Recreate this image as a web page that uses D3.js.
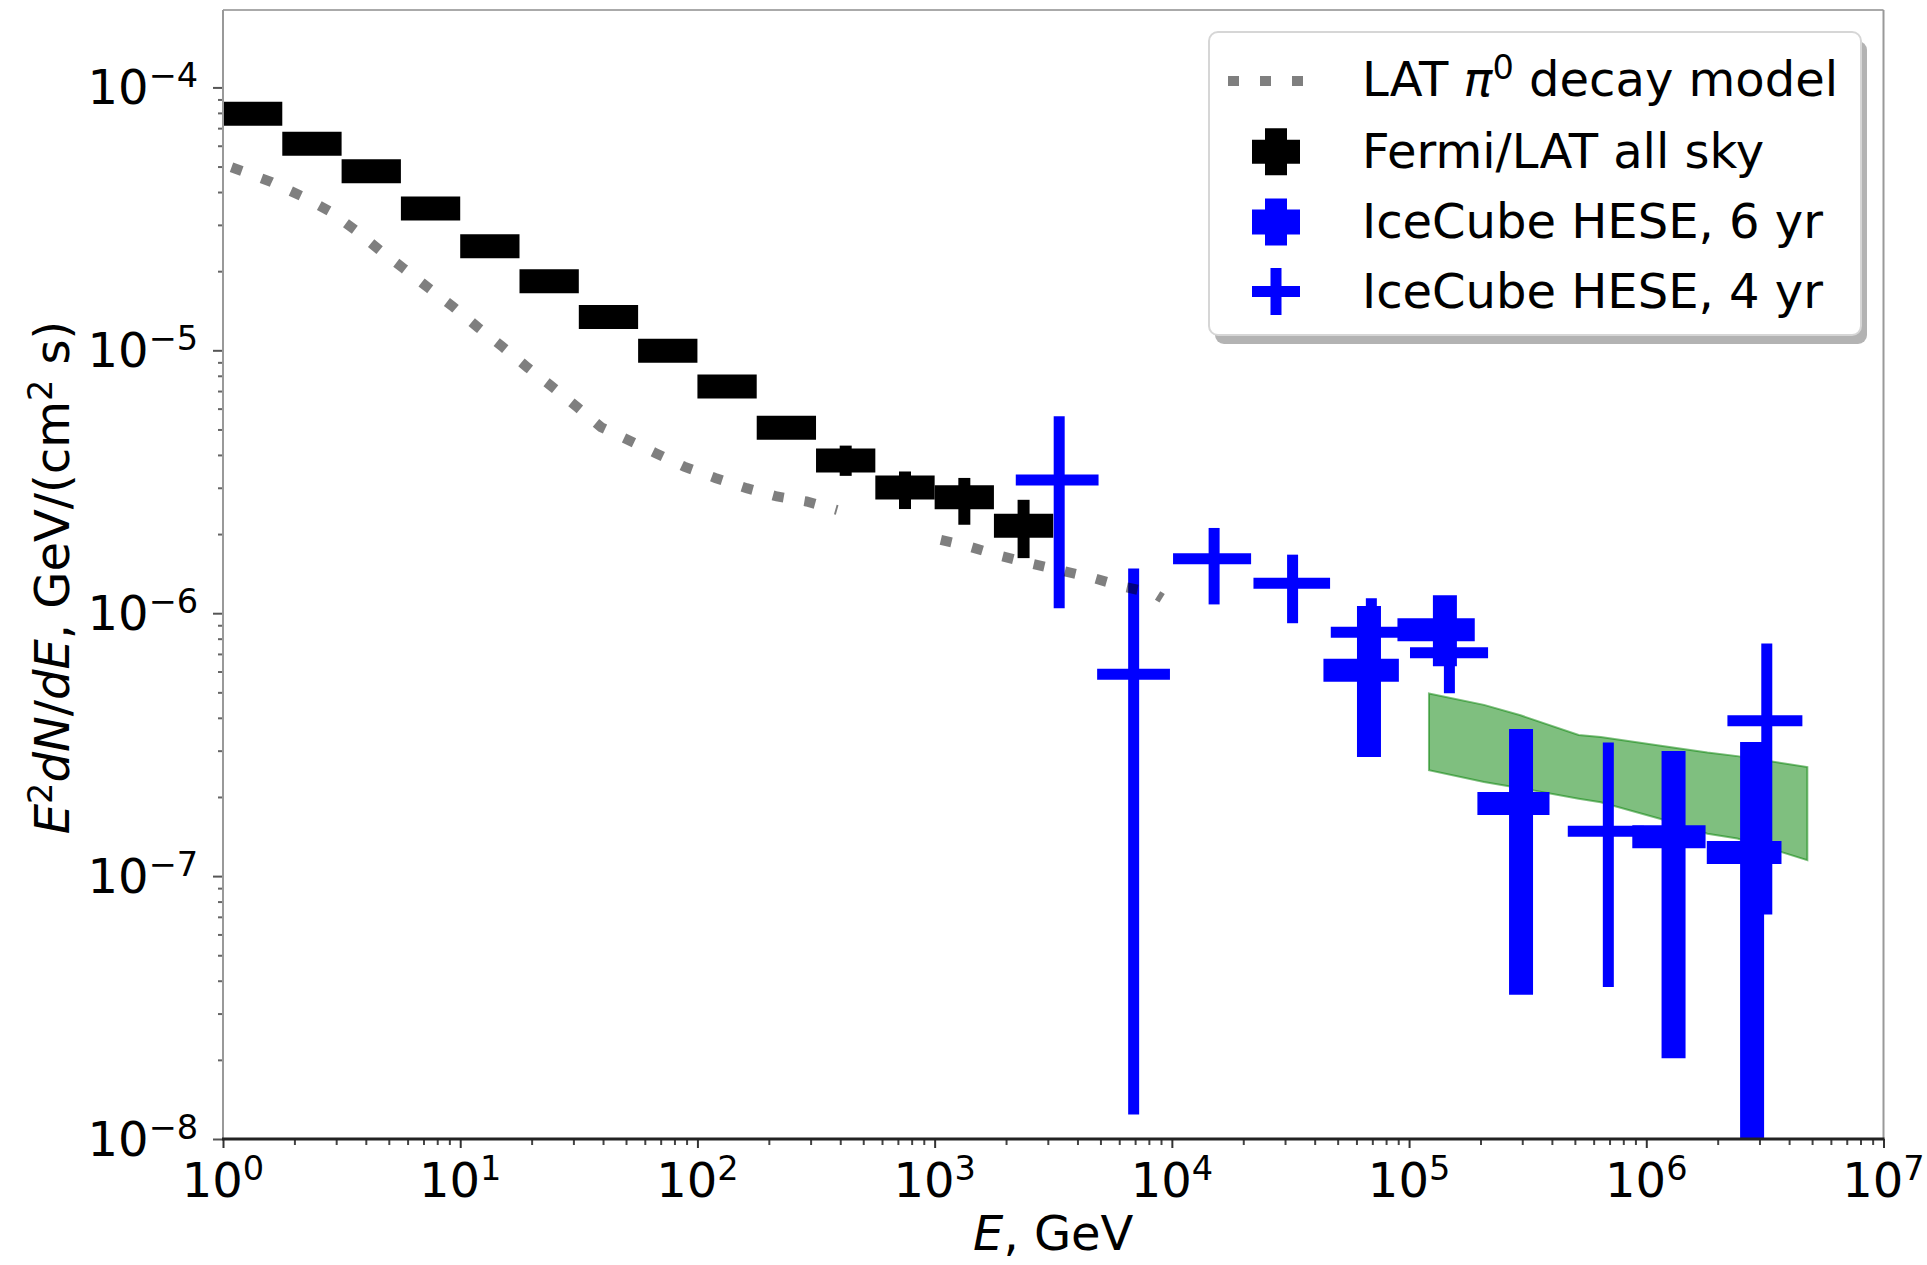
<!DOCTYPE html>
<html><head><meta charset="utf-8">
<script src="https://cdnjs.cloudflare.com/ajax/libs/d3/7.8.5/d3.min.js"></script>
<style>
body{margin:0;background:#fff}
svg{display:block;font-family:"DejaVu Sans",sans-serif}
text{white-space:pre}
</style>
</head><body>
<svg id="chart" width="1927" height="1265"></svg>
<script>
// ---------------- data ----------------
// LAT pi0 decay model (null = gap in the curve)
const modelE    = [1.086, 1.222, 1.603, 2.143, 2.812, 3.622, 4.592, 5.768, 7.396, 9.376, 11.91, 15.10, 19.23, 24.27, 30.97, 39.26, 50.82, 66.37, 87.90, 118.9, 161.1, 216.3, 288.4, 388.2, null, 1062, 1406, 1905, 2582, 3451, 4677, 6281, 8433, 9099];
const modelFlux = [4.97e-5, 4.78e-5, 4.36e-5, 3.86e-5, 3.38e-5, 2.86e-5, 2.40e-5, 2.05e-5, 1.72e-5, 1.46e-5, 1.22e-5, 1.03e-5, 8.6e-6, 7.3e-6, 6.1e-6, 5.1e-6, 4.57e-6, 4.07e-6, 3.61e-6, 3.27e-6, 2.99e-6, 2.78e-6, 2.66e-6, 2.47e-6, null, 1.90e-6, 1.79e-6, 1.65e-6, 1.54e-6, 1.45e-6, 1.36e-6, 1.26e-6, 1.19e-6, 1.14e-6];

// Fermi/LAT all sky
const fermiE    = [1.334, 2.371, 4.217, 7.499, 13.34, 23.71, 42.17, 74.99, 133.4, 237.1, 421.7, 749.9, 1334, 2371];
const fermiEmin = [1, 1.778, 3.162, 5.623, 10, 17.78, 31.62, 56.23, 100, 177.8, 316.2, 562.3, 1000, 1778];
const fermiEmax = [1.778, 3.162, 5.623, 10, 17.78, 31.62, 56.23, 100, 177.8, 316.2, 562.3, 1000, 1778, 3162];
const fermiFlux = [7.94e-5, 6.10e-5, 4.80e-5, 3.46e-5, 2.49e-5, 1.83e-5, 1.34e-5, 9.96e-6, 7.29e-6, 5.08e-6, 3.81e-6, 3.01e-6, 2.76e-6, 2.15e-6];
const fermiLo   = [7.6e-5, 5.85e-5, 4.6e-5, 3.32e-5, 2.39e-5, 1.76e-5, 1.29e-5, 9.56e-6, 7.0e-6, 4.88e-6, 3.33e-6, 2.49e-6, 2.17e-6, 1.62e-6];
const fermiHi   = [8.28e-5, 6.36e-5, 5.0e-5, 3.6e-5, 2.59e-5, 1.9e-5, 1.39e-5, 1.04e-5, 7.58e-6, 5.28e-6, 4.34e-6, 3.46e-6, 3.27e-6, 2.70e-6];

// IceCube HESE, 6 yr
const ice6E    = [67760, 141600, 296500, 1303000, 2793000];
const ice6Emin = [43550, 89330, 194100, 873000, 1799000];
const ice6Emax = [90570, 189200, 390800, 1778000, 3715000];
const ice6Flux = [6.07e-7, 8.65e-7, 1.89e-7, 1.41e-7, 1.23e-7];
const ice6Lo   = [2.84e-7, 6.29e-7, 3.54e-8, 2.03e-8, 5e-9];
const ice6Hi   = [1.064e-6, 1.17e-6, 3.63e-7, 2.99e-7, 3.24e-7];

// IceCube HESE, 4 yr
const ice4E    = [3350, 6902, 15070, 32280, 69340, 147900, 691800, 3221000];
const ice4Emin = [2198, 4842, 10116, 22080, 46770, 100900, 466700, 2198000];
const ice4Emax = [4909, 9817, 21580, 46450, 100000, 215300, 977200, 4550000];
const ice4Flux = [3.21e-6, 5.86e-7, 1.61e-6, 1.30e-6, 8.47e-7, 7.08e-7, 1.48e-7, 3.90e-7];
const ice4Lo   = [1.045e-6, 1.24e-8, 1.08e-6, 9.16e-7, 6.3e-7, 4.96e-7, 3.79e-8, 7.15e-8];
const ice4Hi   = [5.61e-6, 1.48e-6, 2.11e-6, 1.67e-6, 1.14e-6, 1.0e-6, 3.22e-7, 7.67e-7];

// green band
const bandE     = [121300, 207000, 295100, 518800, 642700, 1151000, 1811000, 2421000, 4775000];
const bandUpper = [4.95e-7, 4.48e-7, 4.09e-7, 3.44e-7, 3.38e-7, 3.13e-7, 2.95e-7, 2.86e-7, 2.60e-7];
const bandLower = [2.53e-7, 2.28e-7, 2.16e-7, 1.97e-7, 1.91e-7, 1.65e-7, 1.45e-7, 1.39e-7, 1.15e-7];

// ticks
const xMajor = [1, 10, 100, 1e3, 1e4, 1e5, 1e6, 1e7];
const xMajorExp = ["0", "1", "2", "3", "4", "5", "6", "7"];
const yMajor = [1e-8, 1e-7, 1e-6, 1e-5, 1e-4];
const yMajorExp = ["\u22128", "\u22127", "\u22126", "\u22125", "\u22124"];

const legendLabels = ["Fermi/LAT all sky", "IceCube HESE, 6 yr", "IceCube HESE, 4 yr"];

// ---------------- drawing ----------------
const FS = 48;
const svg = d3.select("#chart");
const L = 223, R = 1883.5, T = 10, B = 1139;
const x = d3.scaleLog().domain([1, 1e7]).range([L, R]);
const y = d3.scaleLog().domain([1e-8, 1.97e-4]).range([B, T]);

svg.append("rect").attr("width", 1927).attr("height", 1265).attr("fill", "#fff");

svg.append("defs").append("clipPath").attr("id", "clip")
  .append("rect").attr("x", L).attr("y", T).attr("width", R - L).attr("height", B - T);

function rich(textSel, parts, fs) {
  let raised = false;
  parts.forEach(p => {
    const ts = textSel.append("tspan").text(p.t);
    if (p.it) ts.attr("font-style", "italic");
    if (p.sup) {
      ts.attr("font-size", fs * 0.7);
      if (!raised) { ts.attr("dy", -fs * 0.36); raised = true; }
    } else if (raised) { ts.attr("dy", fs * 0.36); raised = false; }
  });
}

// minor tick values
const xMinor = [];
for (let k = 0; k < 7; k++) for (let m = 2; m <= 9; m++) xMinor.push(m * Math.pow(10, k));
const yMinor = [];
for (let k = -8; k < -3; k++) for (let m = 2; m <= 9; m++) { const v = m * Math.pow(10, k); if (v < 1.97e-4) yMinor.push(v); }

// axes ticks
function styleAxis(g, color) {
  g.select(".domain").remove();
  g.selectAll(".tick line").attr("stroke", color).attr("stroke-width", 2);
  g.selectAll(".tick text").remove();
}
svg.append("g").attr("transform", `translate(0,${B})`)
  .call(d3.axisBottom(x).tickValues(xMajor).tickSize(9).tickFormat(() => ""))
  .call(g => styleAxis(g, "#333"));
svg.append("g").attr("transform", `translate(0,${B})`)
  .call(d3.axisBottom(x).tickValues(xMinor).tickSize(6).tickFormat(() => ""))
  .call(g => styleAxis(g, "#444"));
svg.append("g").attr("transform", `translate(${L},0)`)
  .call(d3.axisLeft(y).tickValues(yMajor).tickSize(10).tickFormat(() => ""))
  .call(g => styleAxis(g, "#555"));
svg.append("g").attr("transform", `translate(${L},0)`)
  .call(d3.axisLeft(y).tickValues(yMinor).tickSize(5).tickFormat(() => ""))
  .call(g => styleAxis(g, "#666"));

// tick labels
xMajor.forEach((v, i) => {
  const t = svg.append("text").attr("x", x(v)).attr("y", 1197)
    .attr("text-anchor", "middle").attr("font-size", FS).attr("fill", "#000");
  rich(t, [{t: "10"}, {t: xMajorExp[i], sup: true}], FS);
});
yMajor.forEach((v, i) => {
  const t = svg.append("text").attr("x", 198).attr("y", y(v) + 17)
    .attr("text-anchor", "end").attr("font-size", FS).attr("fill", "#000");
  rich(t, [{t: "10"}, {t: yMajorExp[i], sup: true}], FS);
});

// axis labels
const xl = svg.append("text").attr("x", (L + R) / 2).attr("y", 1250)
  .attr("text-anchor", "middle").attr("font-size", FS);
rich(xl, [{t: "E", it: true}, {t: ", GeV"}], FS);
const yl = svg.append("text").attr("x", 0).attr("y", 0)
  .attr("transform", `translate(69,${(T + B) / 2 + 3}) rotate(-90)`)
  .attr("text-anchor", "middle").attr("font-size", FS);
rich(yl, [{t: "E", it: true}, {t: "2", sup: true}, {t: "dN", it: true}, {t: "/"}, {t: "dE", it: true},
          {t: ", GeV/(cm"}, {t: "2", sup: true}, {t: " s)"}], FS);

// plot data
const plot = svg.append("g").attr("clip-path", "url(#clip)");

// band
const bandData = bandE.map((e, i) => ({e, u: bandUpper[i], l: bandLower[i]}));
plot.append("path").datum(bandData)
  .attr("d", d3.area().x(d => x(d.e)).y0(d => y(d.l)).y1(d => y(d.u)))
  .attr("fill", "green").attr("fill-opacity", 0.5)
  .attr("stroke", "green").attr("stroke-opacity", 0.5).attr("stroke-width", 2);

function errorbars(E, Emin, Emax, F, Lo, Hi, color, hw, vw) {
  const g = plot.append("g");
  const d = E.map((e, i) => ({e, a: Emin[i], b: Emax[i], f: F[i], lo: Lo[i], hi: Hi[i]}));
  g.selectAll("line.h").data(d).join("line").attr("class", "h")
    .attr("x1", p => x(p.a)).attr("x2", p => x(p.b))
    .attr("y1", p => y(p.f)).attr("y2", p => y(p.f))
    .attr("stroke", color).attr("stroke-width", hw);
  g.selectAll("line.v").data(d).join("line").attr("class", "v")
    .attr("x1", p => x(p.e)).attr("x2", p => x(p.e))
    .attr("y1", p => y(p.lo)).attr("y2", p => y(p.hi))
    .attr("stroke", color).attr("stroke-width", vw);
}
errorbars(fermiE, fermiEmin, fermiEmax, fermiFlux, fermiLo, fermiHi, "#000", 24, 12);
errorbars(ice6E, ice6Emin, ice6Emax, ice6Flux, ice6Lo, ice6Hi, "#0000ff", 23, 24);
errorbars(ice4E, ice4Emin, ice4Emax, ice4Flux, ice4Lo, ice4Hi, "#0000ff", 11, 11);

// model
const modelData = modelE.map((e, i) => ({e, f: modelFlux[i]}));
plot.append("path").datum(modelData)
  .attr("d", d3.line().defined(d => d.e !== null && d.f !== null).x(d => x(d.e)).y(d => y(d.f)))
  .attr("fill", "none").attr("stroke", "#000").attr("stroke-opacity", 0.5)
  .attr("stroke-width", 10).attr("stroke-dasharray", "11,21").attr("stroke-linecap", "butt");

// frame
svg.append("line").attr("x1", L).attr("x2", R).attr("y1", T).attr("y2", T).attr("stroke", "#aaa").attr("stroke-width", 2);
svg.append("line").attr("x1", R).attr("x2", R).attr("y1", T).attr("y2", B).attr("stroke", "#999").attr("stroke-width", 2);
svg.append("line").attr("x1", L).attr("x2", L).attr("y1", T).attr("y2", B).attr("stroke", "#999").attr("stroke-width", 2);
svg.append("line").attr("x1", L - 1).attr("x2", R + 1).attr("y1", B).attr("y2", B).attr("stroke", "#222").attr("stroke-width", 3);

// legend
const lg = svg.append("g");
const LX = 1209, LY = 32, LW = 652, LH = 303;
lg.append("rect").attr("x", LX + 6).attr("y", LY + 9).attr("width", LW).attr("height", LH).attr("rx", 9)
  .attr("fill", "#808080").attr("fill-opacity", 0.6);
lg.append("rect").attr("x", LX).attr("y", LY).attr("width", LW).attr("height", LH).attr("rx", 9)
  .attr("fill", "#fff").attr("stroke", "#d6d6d6").attr("stroke-width", 2);

const hx = 1276, tx = 1362;
const rowsY = [81, 151.7, 222, 291.5];
lg.append("line").attr("x1", 1228).attr("x2", 1324).attr("y1", rowsY[0]).attr("y2", rowsY[0])
  .attr("stroke", "#000").attr("stroke-opacity", 0.5).attr("stroke-width", 10).attr("stroke-dasharray", "11,21");
const handles = [
  {c: "#000", hw: 24, vw: 22},
  {c: "#0000ff", hw: 25, vw: 22},
  {c: "#0000ff", hw: 11, vw: 11}
];
handles.forEach((h, i) => {
  const cy = rowsY[i + 1];
  lg.append("line").attr("x1", hx - 24).attr("x2", hx + 24).attr("y1", cy).attr("y2", cy)
    .attr("stroke", h.c).attr("stroke-width", h.hw);
  lg.append("line").attr("x1", hx).attr("x2", hx).attr("y1", cy - 23.5).attr("y2", cy + 23.5)
    .attr("stroke", h.c).attr("stroke-width", h.vw);
});
const t0 = lg.append("text").attr("x", tx).attr("y", rowsY[0] + 15).attr("font-size", FS);
rich(t0, [{t: "LAT "}, {t: "\u03c0", it: true}, {t: "0", sup: true}, {t: " decay model"}], FS);
legendLabels.forEach((s, i) => {
  lg.append("text").attr("x", tx).attr("y", rowsY[i + 1] + 16).attr("font-size", FS).text(s);
});
</script>
</body></html>
